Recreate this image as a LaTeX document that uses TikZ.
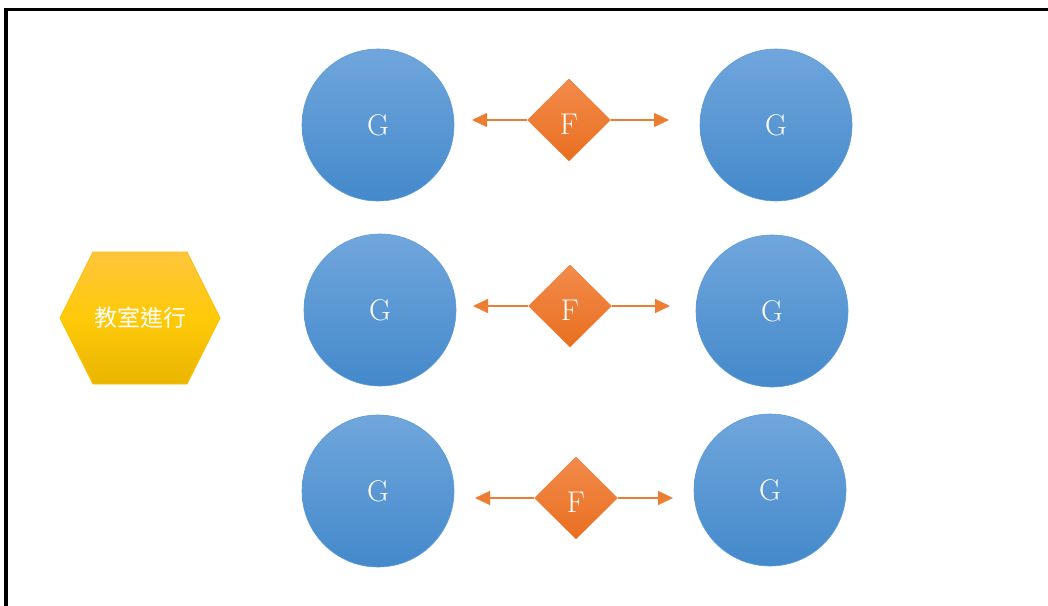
\documentclass[tikz,border=0pt]{standalone}
\usepackage{fontspec}
\newfontfamily\cjk{Noto Sans CJK TC}
\usetikzlibrary{shapes.geometric,arrows.meta}
\definecolor{blueTop}{HTML}{70A6DC}
\definecolor{blueBot}{HTML}{4489CB}
\definecolor{blueEdge}{HTML}{5B9BD5}
\definecolor{orTop}{HTML}{F38B4C}
\definecolor{orBot}{HTML}{E86F1F}
\definecolor{orLine}{HTML}{ED7D31}
\definecolor{yelTop}{HTML}{FFC53E}
\definecolor{yelMid}{HTML}{FFCA08}
\definecolor{yelBot}{HTML}{E9B500}
\definecolor{yelEdge}{HTML}{FFC000}
\newcommand{\lowF}{\raisebox{-4pt}[\height][\depth]{F}}
\tikzset{
  gnode/.style={circle, minimum size=152pt, inner sep=0pt, draw=blueEdge, line width=0.6pt,
    top color=blueTop, bottom color=blueBot, text=white, font=\fontsize{30}{33}\selectfont},
  fnode/.style={diamond, minimum width=83pt, minimum height=82pt, inner sep=0pt, draw=orLine, line width=0.5pt,
    top color=orTop, bottom color=orBot, text=white, font=\fontsize{30}{33}\selectfont},
  conn/.style={orLine, line width=1.2pt, -{Triangle[length=15pt,width=14pt]}},
}
\begin{document}
\begin{tikzpicture}[x=1pt,y=-1pt]
\useasboundingbox (0,0) rectangle (1048,605);
\clip (0,0) rectangle (1048,605);
\fill[white] (0,0) rectangle (1048,605);
\draw[line width=3.2pt, black] (6,9.5) rectangle (1070,630);
% hexagon
\path[draw=yelEdge, line width=0.8pt, top color=yelTop, bottom color=yelBot, middle color=yelMid]
  (60,318) -- (93,252) -- (187,252) -- (220,318) -- (187,384) -- (93,384) -- cycle;
\node[text=white, font=\cjk\fontsize{23}{26}\selectfont] (hex) at (140,318) {教室進行};
% row 1
\node[gnode] (g1l) at (378,125) {G};
\node[gnode] (g1r) at (776,125) {G};
\node[fnode] (f1) at (569,120) {\lowF};
\coordinate (a1l) at (472,120);
\coordinate (a1r) at (669,120);
\draw[conn] (f1.west) -- (a1l);
\draw[conn] (f1.east) -- (a1r);
% row 2
\node[gnode] (g2l) at (380,310) {G};
\node[gnode] (g2r) at (772,311) {G};
\node[fnode] (f2) at (570,306) {\lowF};
\coordinate (a2l) at (473,306);
\coordinate (a2r) at (670,306);
\draw[conn] (f2.west) -- (a2l);
\draw[conn] (f2.east) -- (a2r);
% row 3
\node[gnode] (g3l) at (378,491) {G};
\node[gnode] (g3r) at (770,490) {G};
\node[fnode] (f3) at (576,498) {\lowF};
\coordinate (a3l) at (475,498);
\coordinate (a3r) at (673,498);
\draw[conn] (f3.west) -- (a3l);
\draw[conn] (f3.east) -- (a3r);
\end{tikzpicture}
\end{document}
